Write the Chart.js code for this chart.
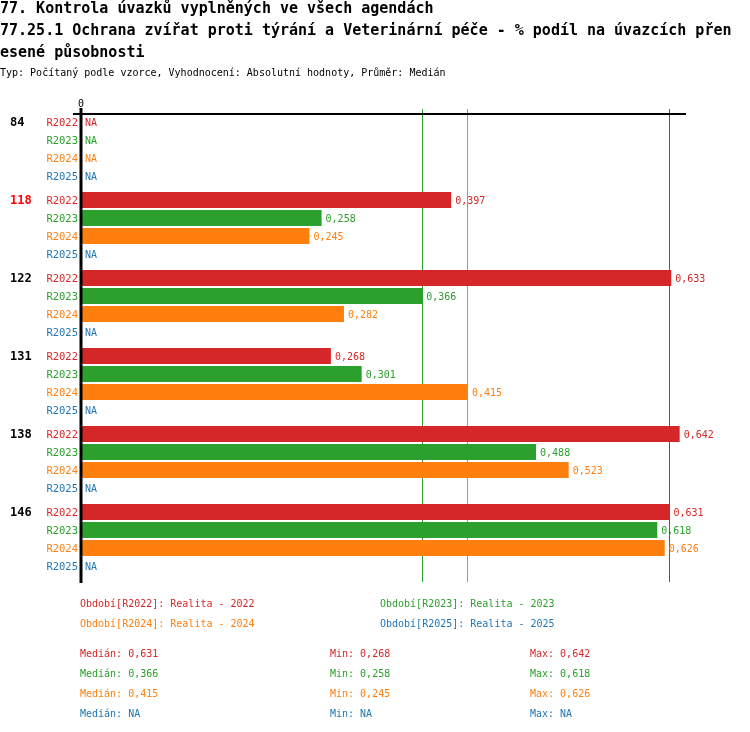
<!DOCTYPE html>
<html><head><meta charset="utf-8">
<script src="https://cdn.jsdelivr.net/npm/chart.js@4.4.1/dist/chart.umd.min.js"></script>
<style>
html,body{margin:0;padding:0;background:#fff;}
body{width:750px;height:732px;position:relative;overflow:hidden;font-family:"DejaVu Sans Mono",monospace;}
.t{position:absolute;white-space:pre;}
.title{left:0;top:-3px;font:bold 15px/22px "DejaVu Sans Mono",monospace;color:#000;}
.sub{left:0;top:66px;font:10px/14px "DejaVu Sans Mono",monospace;color:#000;}
.s{font:10px/14px "DejaVu Sans Mono",monospace;}
</style></head><body>
<canvas id="c" width="750" height="732" style="position:absolute;left:0;top:0"></canvas>
<div class="t title">77. Kontrola úvazků vyplněných ve všech agendách
77.25.1 Ochrana zvířat proti týrání a Veterinární péče - % podíl na úvazcích přen
esené působnosti</div>
<div class="t sub">Typ: Počítaný podle vzorce, Vyhodnocení: Absolutní hodnoty, Průměr: Medián</div>
<div id="foot"></div>
<script>
const groups = ['84','118','122','131','138','146'];
const highlightedGroup = '118';
const periods = ['R2022','R2023','R2024','R2025'];
const periodNames = ['Realita - 2022','Realita - 2023','Realita - 2024','Realita - 2025'];
const colors = ['#d62728','#2ca02c','#ff7f0e','#1f77b4'];
const r2022 = [null,0.397,0.633,0.268,0.642,0.631];
const r2023 = [null,0.258,0.366,0.301,0.488,0.618];
const r2024 = [null,0.245,0.282,0.415,0.523,0.626];
const r2025 = [null,null,null,null,null,null];
const seriesValues = [r2022,r2023,r2024,r2025];
const medians = [0.631,0.366,0.415,null];
const mins = [0.268,0.258,0.245,null];
const maxs = [0.642,0.618,0.626,null];

const fmt = v => v === null ? 'NA' : v.toFixed(3).replace('.', ',');
const CAT = 72/78, BAR = 16/18;

const foot = document.getElementById('foot');
function addText(txt, x, y, color){
  const d = document.createElement('div');
  d.className = 't s';
  d.style.left = x + 'px'; d.style.top = (y - 7) + 'px'; d.style.color = color;
  d.textContent = txt; foot.appendChild(d);
}
periods.forEach((p,i)=>{
  addText('Období[' + p + ']: ' + periodNames[i], i%2===0 ? 80 : 380, 604 + Math.floor(i/2)*20, colors[i]);
  addText('Medián: ' + fmt(medians[i]), 80, 654 + i*20, colors[i]);
  addText('Min: ' + fmt(mins[i]), 330, 654 + i*20, colors[i]);
  addText('Max: ' + fmt(maxs[i]), 530, 654 + i*20, colors[i]);
});

const overlay = {
  id:'overlay',
  beforeDatasetsDraw(chart){
    const c = chart.ctx, xs = chart.scales.x, a = chart.chartArea;
    c.save();
    c.lineWidth = 1;
    medians.forEach((m,i)=>{
      if (m === null) return;
      const x = Math.floor(xs.getPixelForValue(m)) + 0.5;
      c.strokeStyle = colors[i];
      c.beginPath(); c.moveTo(x, a.top - 1); c.lineTo(x, a.bottom + 4); c.stroke();
    });
    c.restore();
  },
  afterDatasetsDraw(chart){
    const c = chart.ctx, xs = chart.scales.x, ys = chart.scales.y, a = chart.chartArea;
    const x0 = xs.getPixelForValue(0);
    c.save();
    c.strokeStyle = '#000'; c.lineWidth = 2;
    c.beginPath(); c.moveTo(a.left - 8, a.top + 4); c.lineTo(a.right, a.top + 4); c.stroke();
    c.lineWidth = 3;
    c.beginPath(); c.moveTo(x0, a.top - 2); c.lineTo(x0, a.bottom + 5); c.stroke();
    c.fillStyle = '#000'; c.font = '10px "DejaVu Sans Mono"';
    c.textAlign = 'center'; c.textBaseline = 'middle';
    c.fillText('0', x0, a.top - 6);
    const band = ys.getPixelForValue(1) - ys.getPixelForValue(0);
    const slot = band * CAT / 4;
    groups.forEach((g,j)=>{
      const center = ys.getPixelForValue(j);
      c.font = 'bold 12px "DejaVu Sans Mono"';
      c.textAlign = 'left';
      c.fillStyle = g === highlightedGroup ? '#ff0000' : '#000';
      c.fillText(g, 10, center - 1.5*slot + 1);
      seriesValues.forEach((vals,i)=>{
        const y = center + (i - 1.5)*slot + 1;
        c.font = '10.5px "DejaVu Sans Mono"';
        c.textAlign = 'right'; c.fillStyle = colors[i];
        c.fillText(periods[i], 78, y);
        c.font = '10px "DejaVu Sans Mono"';
        c.textAlign = 'left';
        const v = vals[j];
        const xe = v === null ? x0 : xs.getPixelForValue(v);
        c.fillText(fmt(v), xe + 4, y);
      });
    });
    c.restore();
  }
};

new Chart(document.getElementById('c').getContext('2d'), {
  type:'bar',
  data:{
    labels: groups,
    datasets: seriesValues.map((vals,i)=>({
      label: periods[i], data: vals, backgroundColor: colors[i], borderWidth: 0,
      categoryPercentage: CAT, barPercentage: BAR
    }))
  },
  options:{
    indexAxis:'y', responsive:false, animation:false, devicePixelRatio:1,
    layout:{padding:{left:81,right:64,top:110,bottom:154}},
    scales:{
      x:{display:false,min:0,max:0.6488},
      y:{display:false}
    },
    plugins:{legend:{display:false},tooltip:{enabled:false}}
  },
  plugins:[overlay]
});
</script>
</body></html>
